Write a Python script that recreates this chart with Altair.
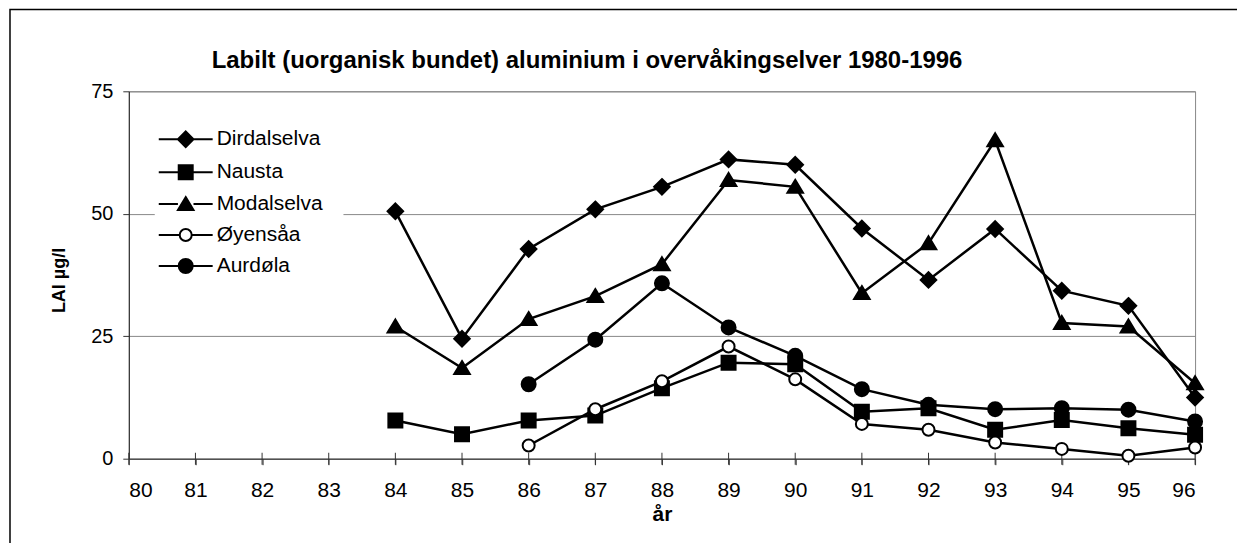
import altair as alt
import pandas as pd

# ---------------- data ----------------
years = list(range(84, 97))
series_names = ["Dirdalselva", "Nausta", "Modalselva", "Øyensåa", "Aurdøla"]

dirdalselva = [50.5, 24.5, 42.8, 50.9, 55.5, 61.1, 60.0, 47.0, 36.5, 46.9, 34.3, 31.2, 12.5]
nausta      = [7.8, 5.0, 7.8, 8.8, 14.4, 19.6, 19.3, 9.6, 10.3, 5.9, 7.9, 6.2, 4.9]
modalselva  = [27.0, 18.5, 28.5, 33.2, 39.7, 56.9, 55.5, 33.8, 44.0, 65.0, 27.7, 27.0, 15.4]
oyensaa     = [None, None, 2.7, 10.1, 15.8, 22.9, 16.2, 7.1, 5.9, 3.3, 2.0, 0.6, 2.3]
aurdola     = [None, None, 15.2, 24.3, 35.8, 26.8, 21.0, 14.2, 11.0, 10.1, 10.3, 10.0, 7.6]

x_ticks = list(range(80, 97))
y_ticks = [0, 25, 50, 75]

title_text = "Labilt (uorganisk bundet) aluminium i overvåkingselver 1980-1996"
x_title = "år"
y_title = "LAl µg/l"

# ---------------- table ----------------
rows = []
for name, vals in zip(series_names, [dirdalselva, nausta, modalselva, oyensaa, aurdola]):
    for yr, v in zip(years, vals):
        if v is not None:
            rows.append({"series": name, "year": yr, "value": v})
df = pd.DataFrame(rows)
tick_df = pd.DataFrame({"year": x_ticks, "value": [0] * len(x_ticks)})

# ---------------- styles ----------------
FONT = "Liberation Sans"

def circle(r):
    return f"M{-r},0A{r},{r} 0 1,0 {r},0A{r},{r} 0 1,0 {-r},0Z"

marker_paths = [
    "M0,-0.78L0.78,0L0,0.78L-0.78,0Z",          # diamond
    "M-0.7,-0.7L0.7,-0.7L0.7,0.7L-0.7,0.7Z",     # square
    "M0,-0.7L0.78,0.6L-0.78,0.6Z",               # triangle
    circle(0.6),                                 # open circle
    circle(0.7),                                 # filled circle
]
half = [0.78, 0.7, 0.78, 0.6, 0.7]
legend_paths = [f"M-2.7,0L{-h},0M{h},0L2.7,0" + p for p, h in zip(marker_paths, half)]
fill_colors = ["black", "black", "black", "white", "black"]
stroke_colors = ["black"] * 5

x_enc = alt.X(
    "year:Q",
    scale=alt.Scale(domain=[80, 96], nice=False, zero=False),
    axis=alt.Axis(
        values=x_ticks, title=x_title, format="d", grid=False,
        labelFontSize=21, labelFont=FONT, labelColor="black", labelPadding=15,
        tickSize=6, tickColor="#333", domainColor="#333", domainWidth=1,
        titleFontSize=21, titleFont=FONT, titleFontWeight="bold", titleColor="black",
        titleY=62, titleBaseline="alphabetic",
    ),
)
y_enc = alt.Y(
    "value:Q",
    scale=alt.Scale(domain=[0, 75], nice=False),
    axis=alt.Axis(
        values=y_ticks, title=y_title, grid=True, gridColor="#888", gridWidth=1,
        labelFontSize=20, labelFont=FONT, labelColor="black", labelPadding=10,
        tickSize=6, tickColor="#333", domainColor="#222", domainWidth=1,
        titleFontSize=18, titleFont=FONT, titleFontWeight="bold", titleColor="black",
        titleAngle=270, titleX=-69, titleY=189, titleAlign="center", titleBaseline="middle",
    ),
)

# small tick marks crossing the x axis (Excel style)
axis_ticks = alt.Chart(tick_df).mark_tick(
    color="#333", size=12, thickness=1, opacity=1
).encode(x=x_enc, y=y_enc)

lines = alt.Chart(df).mark_line(color="black", strokeWidth=2.5).encode(
    x=x_enc, y=y_enc, detail="series:N", order="year:Q"
)

points = alt.Chart(df).mark_point(
    filled=True, stroke="black", strokeWidth=2, opacity=1, size=400
).encode(
    x=x_enc, y=y_enc,
    shape=alt.Shape("series:N", scale=alt.Scale(domain=series_names, range=marker_paths), legend=None),
    fill=alt.Fill("series:N", scale=alt.Scale(domain=series_names, range=fill_colors), legend=None),
)

leg = alt.Legend(
    title=None, orient="none", legendX=26, legendY=17, padding=20,
    fillColor="white", labelFontSize=21, labelFont=FONT, labelColor="black",
    labelOffset=20, rowPadding=10, symbolSize=400, symbolStrokeWidth=2,
    symbolStrokeColor="black", labelLimit=0,
)
legend_layer = alt.Chart(df).transform_filter("false").mark_point(
    filled=True, strokeWidth=2, opacity=1, size=400
).encode(
    x=x_enc, y=y_enc,
    shape=alt.Shape("series:N", scale=alt.Scale(domain=series_names, range=legend_paths), legend=leg),
    fill=alt.Fill("series:N", scale=alt.Scale(domain=series_names, range=fill_colors), legend=leg),
    stroke=alt.Stroke("series:N", scale=alt.Scale(domain=series_names, range=stroke_colors), legend=leg),
)

frame = alt.Chart(pd.DataFrame({"k": [0]})).mark_rect(
    filled=False, stroke="black", strokeWidth=1.5, fill=None
).encode(
    x=alt.value(-119), x2=alt.value(1125), y=alt.value(-82), y2=alt.value(480)
)

chart = alt.layer(frame, axis_ticks, lines, points, legend_layer).resolve_scale(
    shape="independent", fill="independent", stroke="independent"
).properties(
    width=1068, height=368,
    padding={"left": 121, "top": 83, "right": 42, "bottom": 84},
    autosize=alt.AutoSizeParams(type="none"),
    background="white",
    title=alt.TitleParams(
        text=title_text, font=FONT, fontSize=24, fontWeight="bold", color="black",
        anchor="start", frame="group", dx=83, dy=83, offset=0, baseline="alphabetic",
    ),
).configure_view(stroke="#888", strokeWidth=1)

chart.save("out.html", embed_options={"renderer": "svg", "actions": False})
